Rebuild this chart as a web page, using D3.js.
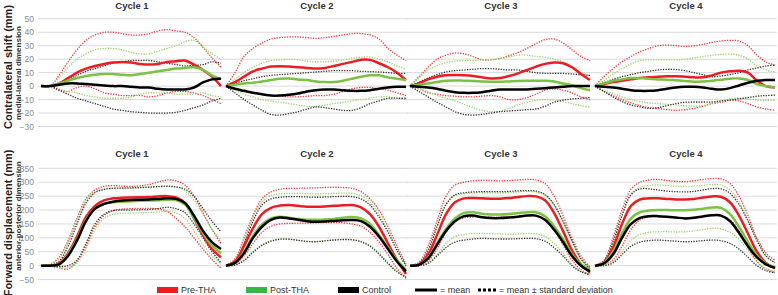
<!DOCTYPE html>
<html>
<head>
<meta charset="utf-8">
<script src="https://cdn.jsdelivr.net/npm/d3@7"></script>
<style>
  body { margin: 0; background: #fff; }
  svg { display: block; font-family: "Liberation Sans Narrow", "Arial Narrow", "Liberation Sans", Arial, sans-serif; }
</style>
</head>
<body>
<div id="chart"></div>
<script>
const width = 778, height = 295;

const cycles = ["Cycle 1", "Cycle 2", "Cycle 3", "Cycle 4"];
const gaitPct = [0, 5, 10, 15, 20, 25, 30, 35, 40, 45, 50, 55, 60, 65, 70, 75, 80, 85, 90, 95, 100];
const latTicks = [50, 40, 30, 20, 10, 0, -10, -20, -30];
const apTicks = [350, 300, 250, 200, 150, 100, 50, 0, -50];

// contralateral shift (mm), one row per cycle
const latPreMean = [
  [0,0,2,6,10,13,15,16.5,17.5,18,17.5,16.5,16,16.5,18,18.5,19,16,12,7,0],
  [0,3,7,11,13,14.5,14.8,14.5,14,13.5,13,13.5,15,16.5,18,19.5,19.5,17,14,10,4.5],
  [0,2,5,7,8,8.2,8,7.5,6.5,5.7,6,7.5,9.5,12,14.5,16.5,17.5,17,14,9,4.5],
  [0,1.5,3,4,5,6,6.5,7,7.3,7.4,7,6.5,6.5,8,10,11,11.4,10,4,0,-1]];
const latPreUp = [
  [0,0,8,18,27,34,38,40,40,39,38,38,39,41,42,41,40,36,29,21,14],
  [0,10,22,28,32,35,36,36.5,36.5,36,35.5,36,37,38,39,39,38,35,28,23,19],
  [0,7,14,20,23,24.5,24,22,19.5,19.5,20.5,22.5,25,28,31.5,34.5,35,32,27,22,19],
  [0,7,13,18,22,25.5,28,30,30.5,30,29.5,30,31,32.5,33.5,34,33.5,30,23,18,15.5]];
const latPreLow = [
  [0,0,-3,-4,-1,0,-2,-5,-6,-7,-7,-7,-8,-7,-5,-4,-4,-5,-7,-10,-13],
  [0,-2,-4,-5,-6,-7,-7.5,-8,-8,-7.5,-7,-7,-6,-4,-2,-1,-1,-2,-3,-5,-7],
  [0,-2,-5,-6,-7,-7.5,-8,-8,-7.5,-7,-8,-10,-10,-8.5,-6,-3,-2,-3,-5,-8,-10],
  [0,-4,-7,-10,-12.5,-14.5,-16,-16.6,-17.5,-18,-17.5,-16.5,-15,-13,-12,-10.5,-11,-13,-15.5,-17,-18]];
const latPostMean = [
  [0,0,2,4,6,7.5,8.5,9,9,8.5,8,9,10,11,12,13,13.5,14,12,8,5],
  [0,1,2,2.5,3.5,4.5,5.5,5.7,5,4.5,3.5,3,3,4,5.5,7,8,8,6.5,5.5,4.5],
  [0,1,2,3,4,4.2,4,3.8,3.5,3.3,3.2,3.5,3.8,4,4,4,3.5,2,0.5,-1.5,-3],
  [0,2,4,5,6,6,5.5,5,4.8,4.3,3.8,3.3,3.5,4,4.8,5.5,5.7,4.5,1.5,0,-1]];
const latPostUp = [
  [0,0,6,14,20,24,27,28,28,27,25,24,24,26,28,30,33,34,29,24,20],
  [0,5,10,14,17,19,19.5,20,19.5,18.5,18,18,18.5,19.5,20.5,21.5,21.5,20,18,15,13],
  [0,6,12,15,17.5,18.5,19,19,19.5,19.8,20.5,21.5,23,23,22,21.5,20,18,14,10,8],
  [0,4,9,13,16.5,19,19.5,19.5,19.5,19.5,20,21,22,23,23.5,23.8,23,20,15,12,10.6]];
const latPostLow = [
  [0,0,-2,-4,-5,-7,-8,-9,-9,-9,-8,-6,-5,-5,-5,-6,-6,-6,-5,-7,-8],
  [0,-3,-6,-8,-10,-11,-12,-13,-14,-15,-15,-14,-13,-12,-11,-10,-9,-8,-8,-9,-10],
  [0,-2,-4,-7,-9,-11,-13.5,-16,-18,-19,-18.5,-16.5,-14,-12,-10.5,-10,-10.5,-11.5,-13,-14.5,-15.5],
  [0,-3,-5.5,-8,-10,-11.5,-12.5,-13,-13.5,-14,-14.5,-15,-14.5,-13,-11.5,-9.5,-9,-9.5,-10.5,-10.5,-10.5]];
const latCtrlMean = [
  [0,0,1,2,2,1.5,1,0.5,0,0,-0.5,-1,-1,-2,-2.5,-2.5,-2.5,-1,2.7,5,5.5],
  [0,-2,-3.5,-5,-6,-7,-7,-6.5,-5.5,-4,-3,-2.5,-2.5,-3,-3.5,-3.5,-3,-2,-1,-0.5,-0.5],
  [0,-0.5,-1,-2,-3.5,-4.5,-5,-5,-4.5,-3.5,-2.5,-2.5,-2.5,-2.5,-2,-1.5,-1,-0.5,0,0,0],
  [0,-0.5,-1,-2,-3,-3.5,-3.5,-3,-2,-1,-0.5,-0.5,-1,-2,-2.5,-1.5,0.5,2.5,4,4.5,4.5]];
const latCtrlUp = [
  [0,0,2,5,8,11,13,15,17,18,19,19,19,18,17,16,15,15.5,16,18,17],
  [0,2,4,5.5,7,8,8.5,9,9.5,10,10.5,11,11.5,11.5,11.5,11,10.8,10.5,10,9.5,9.5],
  [0,3,6,8.5,10.5,11.5,12,12.5,13,13,12.5,12,12,11,10,9.5,9.5,9.4,9,8.5,8],
  [0,2.5,5,7,8.5,10,11,12,12.5,12.3,11.5,10,8.5,7,7.5,8.5,10,12,13.5,15,15.6]];
const latCtrlLow = [
  [0,0,-3,-6,-9,-11,-13,-15,-17,-18,-19,-19.5,-20,-20,-20,-19.5,-18,-16,-14,-11,-9],
  [0,-5,-10,-14,-18,-21,-21.5,-20.5,-19,-17,-15.5,-16,-17,-18,-18,-16,-13,-11,-9,-9,-9],
  [0,-4,-8,-12,-15.5,-19,-21,-21.5,-21,-20,-19,-18.5,-18,-17.5,-17,-15,-12,-10.5,-9.5,-9,-8.5],
  [0,-4,-8,-11.5,-14,-15.5,-16.5,-16,-14.5,-13,-12,-11.8,-11.8,-11.8,-11,-10.4,-9.5,-8.5,-7.5,-7,-6.7]];

// forward displacement (mm), one row per cycle
const apPreMean = [
  [0,0,8,45,105,175,215,235,242,244,245,246,247,249,250,245,225,170,110,60,30],
  [0,15,70,135,185,208,216,218,215,212,212,213,215,217,218,210,185,140,80,20,-30],
  [0,5,40,110,185,228,242,243,242,241,241,243,247,250,249,235,190,125,55,5,-25],
  [0,12,65,150,215,238,242,242,240,238,238,240,245,249,248,228,180,115,50,10,-10]];
const apPreUp = [
  [0,5,30,90,170,240,272,285,288,286,285,287,292,300,308,305,290,250,190,130,80],
  [0,25,100,180,240,265,275,278,278,279,280,281,282,281,278,266,240,200,140,70,5],
  [0,12,70,160,250,290,300,305,307,306,305,306,308,310,308,295,250,180,100,35,-5],
  [0,20,100,200,275,300,308,310,306,303,302,305,310,313,312,295,250,180,100,45,20]];
const apPreLow = [
  [0,-2,-8,-12,15,70,140,180,198,203,205,206,206,204,195,170,140,100,60,22,-9],
  [0,5,35,80,120,142,150,152,153,153,154,155,155,154,150,142,120,85,40,-10,-45],
  [0,0,15,60,120,160,172,175,175,174,174,175,178,180,178,165,130,75,20,-15,-35],
  [0,3,20,70,130,165,175,176,174,172,172,174,178,181,180,165,125,65,15,-12,-25]];
const apPostMean = [
  [0,0,6,40,95,165,205,222,228,230,232,233,234,235,237,236,220,172,118,72,45],
  [0,10,50,105,148,170,176,172,168,165,165,166,168,172,175,170,150,110,65,20,-15],
  [0,3,28,80,132,170,190,192,187,184,184,186,189,192,192,178,142,95,42,5,-15],
  [0,10,50,115,170,192,198,200,200,199,199,201,205,209,208,185,140,85,35,8,-5]];
const apPostUp = [
  [0,4,25,85,165,235,265,275,278,278,278,280,283,285,287,283,270,235,185,130,92],
  [0,20,90,170,228,252,258,260,260,259,258,259,260,261,260,252,228,185,125,60,-5],
  [0,8,55,140,218,252,258,261,262,262,262,263,265,267,265,253,218,158,88,22,-10],
  [0,15,85,180,258,282,288,290,288,285,284,286,289,291,290,272,230,165,95,35,10]];
const apPostLow = [
  [0,-2,-6,-8,10,60,130,170,185,188,189,190,191,193,195,190,170,125,75,35,5],
  [0,3,20,50,75,90,97,96,92,88,87,90,93,95,94,88,72,45,10,-20,-40],
  [0,0,10,40,80,105,112,116,116,115,114,113,114,116,115,105,80,45,5,-20,-30],
  [0,2,15,50,90,112,120,122,122,121,122,125,130,134,132,120,95,55,15,-10,-20]];
const apCtrlMean = [
  [0,0,5,35,90,160,205,222,230,234,236,237,238,240,242,240,225,180,125,85,60],
  [0,10,45,100,140,165,173,170,165,160,158,159,161,163,164,160,140,105,60,15,-20],
  [0,3,25,75,125,160,178,180,174,171,171,173,176,180,180,165,130,85,35,0,-20],
  [0,8,40,100,150,172,178,178,176,173,170,172,177,181,180,160,118,70,30,5,-8]];
const apCtrlUp = [
  [0,2,15,70,150,225,262,274,278,279,280,281,282,284,285,283,275,250,205,160,122],
  [0,15,80,160,218,240,246,248,248,247,246,247,248,249,248,240,218,175,120,55,0],
  [0,8,55,140,220,255,262,265,266,266,266,267,269,270,268,256,220,160,90,25,-10],
  [0,15,85,180,255,276,276,272,268,266,265,267,272,277,276,260,220,160,90,35,10]];
const apCtrlLow = [
  [0,-1,-3,0,20,80,150,185,198,200,200,201,202,205,210,205,190,150,100,50,10],
  [0,2,18,48,73,88,95,95,91,87,86,89,92,94,93,86,70,42,8,-22,-42],
  [0,0,8,35,65,85,92,96,98,97,96,96,97,98,97,88,65,35,0,-22,-32],
  [0,0,10,40,70,85,90,92,90,88,86,87,90,92,90,80,60,30,0,-18,-25]];

const groups = ["Pre-THA", "Post-THA", "Control"];
const meanColor = {"Pre-THA": "#ec1c24", "Post-THA": "#7bc143", "Control": "#000000"};
const sdColor = {"Pre-THA": "#ee3a3f", "Post-THA": "#9ed36e", "Control": "#333333"};
const legendColor = {"Pre-THA": "#ed1c24", "Post-THA": "#3cb44a", "Control": "#000000"};

const rows = [
  {ticks: latTicks, domain: [-30, 50], range: [126.5, 18.8], titleY: 9,
   label: "Contralateral shift (mm)", sub: "medial-lateral dimension", labelY: 67, subY: 73,
   series: {"Pre-THA": [latPreMean, latPreUp, latPreLow], "Post-THA": [latPostMean, latPostUp, latPostLow], "Control": [latCtrlMean, latCtrlUp, latCtrlLow]}},
  {ticks: apTicks, domain: [-50, 350], range: [279.6, 168.3], titleY: 157,
   label: "Forward displacement (mm)", sub: "anterior-posterior dimension", labelY: 223, subY: 216,
   series: {"Pre-THA": [apPreMean, apPreUp, apPreLow], "Post-THA": [apPostMean, apPostUp, apPostLow], "Control": [apCtrlMean, apCtrlUp, apCtrlLow]}}
];

const panelLeft = [41, 226, 410, 595];
const panelW = 182;

const svg = d3.select("#chart").append("svg")
  .attr("width", width)
  .attr("height", height);

rows.forEach(function(row) {
  const y = d3.scaleLinear().domain(row.domain).range(row.range);

  // y axis labels (tick text only)
  svg.append("g")
    .attr("transform", "translate(35,0)")
    .call(d3.axisLeft(y).tickValues(row.ticks).tickSize(0).tickPadding(1))
    .call(g => g.select(".domain").remove())
    .selectAll("text")
      .style("font-size", "8.5px")
      .style("font-family", "Liberation Sans, Arial, sans-serif")
      .attr("fill", "#8a8a8a");

  svg.append("text")
    .attr("transform", `translate(11.5,${row.labelY}) rotate(-90)`)
    .attr("text-anchor", "middle")
    .style("font-size", "11px")
    .style("font-weight", "bold")
    .style("font-family", "Liberation Sans, Arial, sans-serif")
    .attr("fill", "#222")
    .text(row.label);

  svg.append("text")
    .attr("transform", `translate(20.5,${row.subY}) rotate(-90)`)
    .attr("text-anchor", "middle")
    .style("font-size", "8px")
    .style("font-weight", "bold")
    .attr("fill", "#333")
    .text(row.sub);

  cycles.forEach(function(c, i) {
    const x0 = panelLeft[i];
    const x = d3.scaleLinear().domain([0, 100]).range([x0, x0 + panelW - 2]);

    svg.append("g")
      .selectAll("line")
      .data(row.ticks)
      .join("line")
        .attr("x1", x0 - 3)
        .attr("x2", x0 + panelW)
        .attr("y1", d => y(d))
        .attr("y2", d => y(d))
        .attr("stroke", "#d9d9d9")
        .attr("stroke-width", 1);

    svg.append("text")
      .attr("x", x0 + panelW / 2)
      .attr("y", row.titleY)
      .attr("text-anchor", "middle")
      .style("font-size", "9.5px")
      .style("font-weight", "bold")
      .style("font-family", "Liberation Sans, Arial, sans-serif")
      .attr("fill", "#333")
      .text(c);

    const line = d3.line()
      .x((d, j) => x(gaitPct[j]))
      .y(d => y(d))
      .curve(d3.curveCatmullRom.alpha(0.5));

    // standard deviation bands first, means on top
    groups.forEach(function(gname) {
      const s = row.series[gname];
      [s[1][i], s[2][i]].forEach(function(vals) {
        svg.append("path")
          .datum(vals)
          .attr("d", line)
          .attr("fill", "none")
          .attr("stroke", sdColor[gname])
          .attr("stroke-width", 1.3)
          .attr("stroke-dasharray", "1.3,1.3");
      });
    });
    groups.forEach(function(gname) {
      svg.append("path")
        .datum(row.series[gname][0][i])
        .attr("d", line)
        .attr("fill", "none")
        .attr("stroke", meanColor[gname])
        .attr("stroke-width", 2.5);
    });
  });
});

// legend
const legend = svg.append("g").style("font-size", "9px").attr("fill", "#333");
const legendX = [157, 246, 338];
groups.forEach(function(gname, i) {
  legend.append("rect")
    .attr("x", legendX[i]).attr("y", 287)
    .attr("width", 21).attr("height", 6)
    .attr("fill", legendColor[gname]);
  legend.append("text")
    .attr("x", legendX[i] + 24).attr("y", 293)
    .text(gname);
});
legend.append("line")
  .attr("x1", 415).attr("x2", 437).attr("y1", 290).attr("y2", 290)
  .attr("stroke", "#000").attr("stroke-width", 3);
legend.append("text").attr("x", 440).attr("y", 293).text("= mean");
legend.append("line")
  .attr("x1", 478).attr("x2", 497).attr("y1", 290).attr("y2", 290)
  .attr("stroke", "#000").attr("stroke-width", 3)
  .attr("stroke-dasharray", "3,2");
legend.append("text").attr("x", 499).attr("y", 293).text("= mean \u00B1 standard deviation");
</script>
</body>
</html>
